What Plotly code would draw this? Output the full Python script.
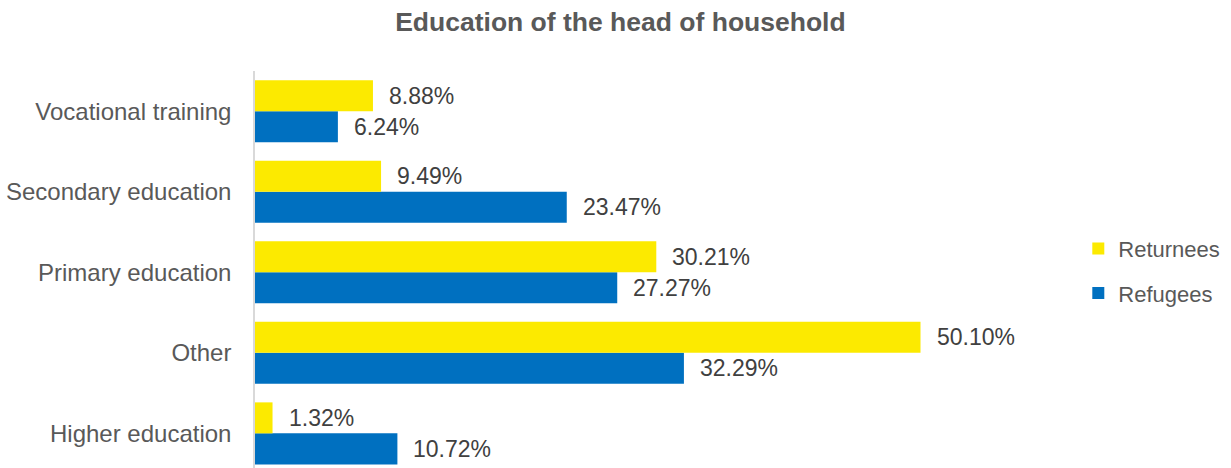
import plotly.graph_objects as go

# Categories listed bottom-to-top as they appear on the y axis
categories = ["Higher education", "Other", "Primary education",
              "Secondary education", "Vocational training"]
returnees = [1.32, 50.10, 30.21, 9.49, 8.88]
refugees = [10.72, 32.29, 27.27, 23.47, 6.24]

YELLOW = "#FCEA00"
BLUE = "#0070C0"
FONT = "Liberation Sans, Arial, sans-serif"

fig = go.Figure()
fig.add_trace(go.Bar(y=categories, x=refugees, name="Refugees", orientation="h",
                     legendgroup="ref", legendrank=2,
                     marker=dict(color=BLUE, line=dict(width=0))))
fig.add_trace(go.Bar(y=categories, x=returnees, name="Returnees", orientation="h",
                     legendgroup="ret", legendrank=1,
                     marker=dict(color=YELLOW, line=dict(width=0))))

bargap = 0.23
half = (1 - bargap) / 4  # centre offset of each bar inside its group

annotations = []
for i, cat in enumerate(categories):
    for val, off in ((returnees[i], half), (refugees[i], -half)):
        annotations.append(dict(
            x=val, y=i + off, xref="x", yref="y",
            text=f"{val:.2f}%", showarrow=False,
            xanchor="left", yanchor="middle", xshift=14,
            font=dict(family=FONT, size=23, color="#404040"),
        ))

fig.update_layout(
    width=1231, height=468,
    margin=dict(l=255, r=179, t=71, b=0, pad=0),
    paper_bgcolor="white", plot_bgcolor="white",
    barmode="group", bargap=bargap, bargroupgap=0,
    title=dict(text="<b>Education of the head of household</b>",
               x=0.504, xanchor="center", y=1 - 22 / 468, yanchor="middle",
               font=dict(family=FONT, size=26.5, color="#595959")),
    xaxis=dict(range=[0, 60], visible=False, showgrid=False, zeroline=False),
    yaxis=dict(type="category", categoryorder="array", categoryarray=categories,
               range=[-0.43, 4.5], showline=True, linecolor="#D9D9D9", linewidth=1.5,
               showgrid=False, zeroline=False, ticks="", ticklabelstandoff=17,
               tickfont=dict(family=FONT, size=24, color="#595959")),
    legend=dict(x=1.033, xanchor="left", y=0.496, yanchor="middle",
                traceorder="grouped", tracegroupgap=13, itemwidth=30,
                font=dict(family=FONT, size=22, color="#595959"),
                bgcolor="rgba(0,0,0,0)"),
    annotations=annotations,
    showlegend=True,
)

fig.write_html("out.html")
